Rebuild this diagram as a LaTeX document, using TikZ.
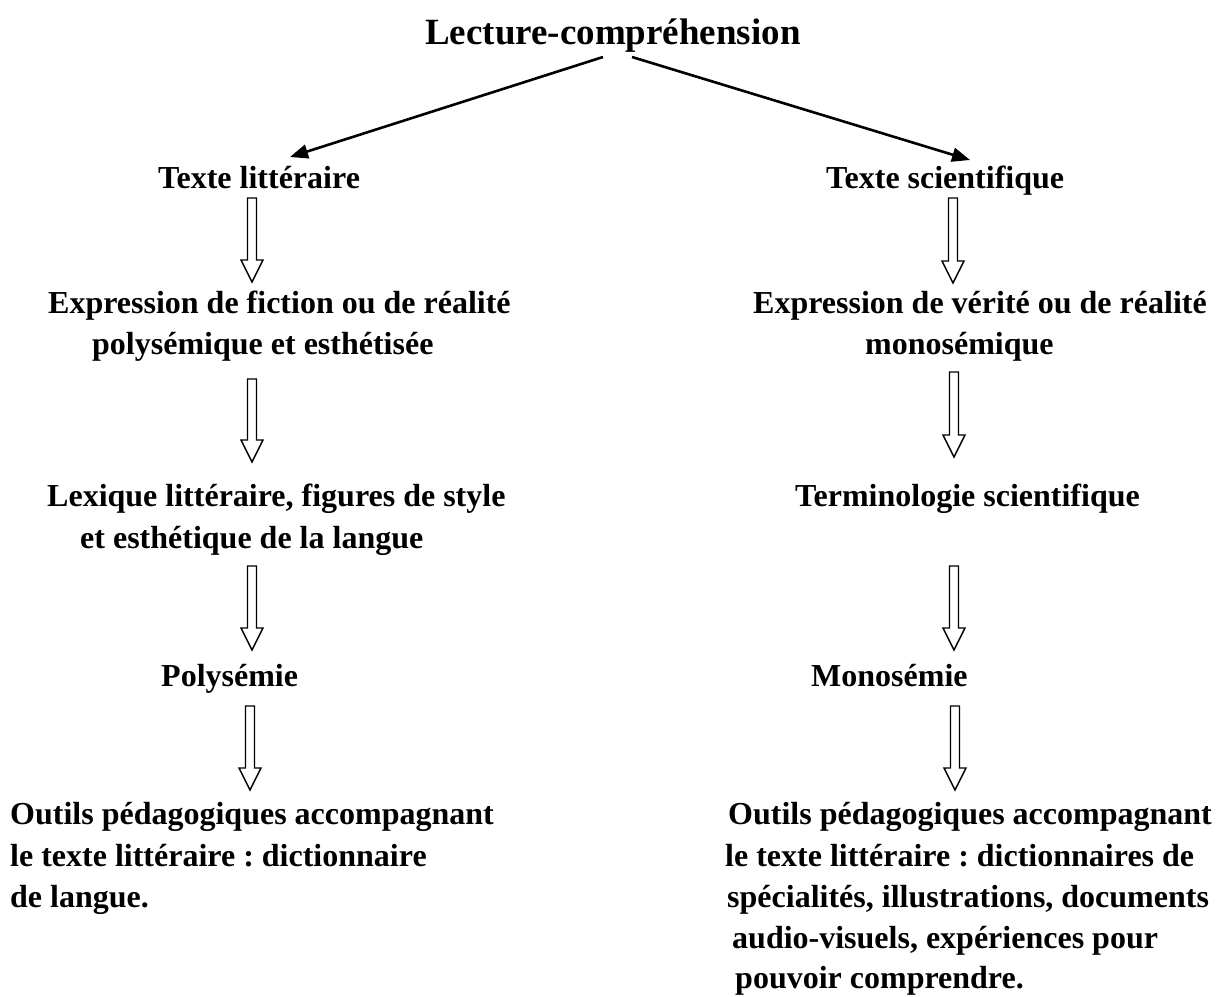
\documentclass[tikz,border=0pt]{standalone}
\usepackage{fontspec}
\setmainfont{Liberation Serif}
\usetikzlibrary{arrows.meta,calc}
\frenchspacing
\newcommand\hollowdown[2]{%
  \draw[hollow] ($(#1)+(-4.5,0)$) -- ($(#2)+(-4.5,-22)$) -- ($(#2)+(-11,-22)$) -- (#2)
    -- ($(#2)+(11,-22)$) -- ($(#2)+(4.5,-22)$) -- ($(#1)+(4.5,0)$) -- cycle;}
\begin{document}
\begin{tikzpicture}[x=1pt,y=-1pt,
  txt/.style={anchor=base west, inner sep=0pt, font=\bfseries\fontsize{32}{40}\selectfont},
  ttl/.style={anchor=base west, inner sep=0pt, font=\bfseries\fontsize{37}{44}\selectfont},
  link/.style={line width=2.6pt, -{Triangle[length=18pt,width=14pt]}},
  hollow/.style={line width=1.4pt, fill=white, line join=miter}]
\useasboundingbox (0,0) rectangle (1220,996);

% title
\node[ttl] (title) at (425,44) {Lecture-compréhension};

% left column
\node[txt] (tl) at (158,188) {Texte littéraire};
\node[txt] (el1) at (48,313) {Expression de fiction ou de réalité};
\node[txt] (el2) at (92,354) {polysémique et esthétisée};
\node[txt] (ll1) at (47,506) {Lexique littéraire, figures de style};
\node[txt] (ll2) at (80,548) {et esthétique de la langue};
\node[txt] (pl) at (161,686) {Polysémie};
\node[txt] (ol1) at (10,824) {Outils pédagogiques accompagnant};
\node[txt] (ol2) at (10,866) {le texte littéraire : dictionnaire};
\node[txt] (ol3) at (10,907) {de langue.};

% right column
\node[txt] (tr) at (826,188) {Texte scientifique};
\node[txt] (er1) at (753,313) {Expression de vérité ou de réalité};
\node[txt] (er2) at (865,354) {monosémique};
\node[txt] (tsr) at (795,506) {Terminologie scientifique};
\node[txt] (mr) at (811,686) {Monosémie};
\node[txt] (or1) at (728,824) {Outils pédagogiques accompagnant};
\node[txt] (or2) at (725,866) {le texte littéraire : dictionnaires de};
\node[txt] (or3) at (727,907) {spécialités, illustrations, documents};
\node[txt] (or4) at (732,948) {audio-visuels, expériences pour};
\node[txt] (or5) at (735,988) {pouvoir comprendre.};

% links from title
\coordinate (ls) at (603,57);
\coordinate (rs) at (632,57);
\coordinate (lt) at (290,157);
\coordinate (rt) at (970,160);
\draw[link] (ls) -- (lt);
\draw[link] (rs) -- (rt);

% hollow arrows, left
\coordinate (a1t) at (252,198); \coordinate (a1b) at (252,282);
\coordinate (a2t) at (252,379); \coordinate (a2b) at (252,462);
\coordinate (a3t) at (252,566); \coordinate (a3b) at (252,650);
\coordinate (a4t) at (250,706); \coordinate (a4b) at (250,790);
\hollowdown{a1t}{a1b}
\hollowdown{a2t}{a2b}
\hollowdown{a3t}{a3b}
\hollowdown{a4t}{a4b}

% hollow arrows, right
\coordinate (b1t) at (953,198); \coordinate (b1b) at (953,283);
\coordinate (b2t) at (954,372); \coordinate (b2b) at (954,457);
\coordinate (b3t) at (954,566); \coordinate (b3b) at (954,650);
\coordinate (b4t) at (955,706); \coordinate (b4b) at (955,790);
\hollowdown{b1t}{b1b}
\hollowdown{b2t}{b2b}
\hollowdown{b3t}{b3b}
\hollowdown{b4t}{b4b}
\end{tikzpicture}
\end{document}
